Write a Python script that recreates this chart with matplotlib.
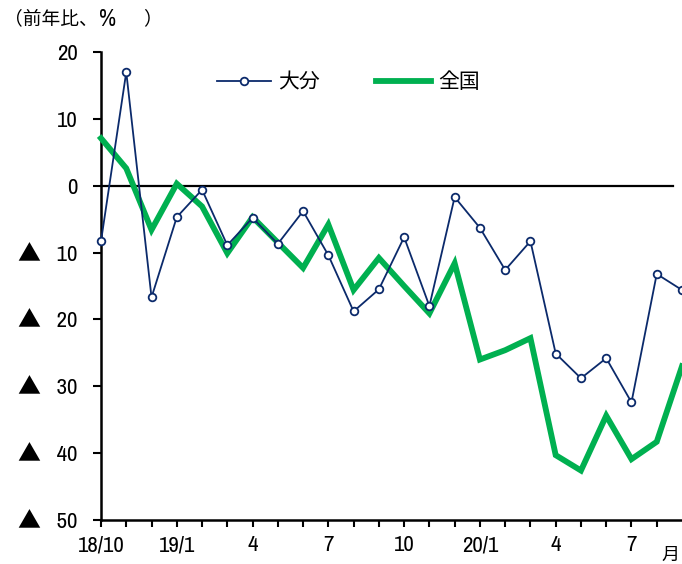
import matplotlib
matplotlib.use("Agg")
import matplotlib.pyplot as plt

JP = ["Noto Sans CJK JP", "DejaVu Sans"]
NUM = ["Archivo Narrow", "Noto Sans CJK JP", "DejaVu Sans"]
NAVY = "#0b2a6b"
GREEN = "#00b050"

# months 18/10 .. 20/9
months = list(range(24))
oita = [-8.3, 17.0, -16.7, -4.7, -0.6, -8.9, -4.8, -8.7, -3.8, -10.4, -18.8, -15.5,
        -7.7, -18.0, -1.7, -6.3, -12.6, -8.3, -25.1, -28.8, -25.8, -32.4, -13.2, -15.6]
japan = [7.1, 2.6, -6.6, 0.3, -3.1, -10.1, -4.7, -8.5, -12.3, -5.8, -15.6, -10.8,
         -15.0, -19.1, -11.6, -26.0, -24.6, -22.8, -40.3, -42.6, -34.4, -40.9, -38.3, -27.0]
x_tick_pos = [0, 3, 6, 9, 12, 15, 18, 21]
x_tick_labels = ["18/10", "19/1", "4", "7", "10", "20/1", "4", "7"]
y_ticks = [-50, -40, -30, -20, -10, 0, 10, 20]
y_tick_labels = ["▲   50", "▲   40", "▲   30", "▲   20", "▲   10", "0", "10", "20"]

W, H = 682, 564
fig = plt.figure(figsize=(W / 100, H / 100), dpi=100)
ax = fig.add_axes([101 / W, 1 - 520 / H, 1 - 101 / W, (520 - 52) / H])

ax.plot(months, oita, color=NAVY, linewidth=1.3, marker="o", markersize=5.5,
        markerfacecolor="white", markeredgecolor=NAVY, markeredgewidth=1.3,
        label="大分", zorder=4, clip_on=False)
ax.plot(months, japan, color=GREEN, linewidth=4.2, label="全国", zorder=3,
        solid_joinstyle="miter", clip_on=False)
ax.axhline(0, xmin=0, xmax=22.64 / 23, color="black", linewidth=1.6, zorder=2)

ax.set_xlim(0, 23)
ax.set_ylim(-50, 20)
ax.set_xticks(range(23), minor=True)
ax.set_xticks(x_tick_pos)
ax.set_xticklabels(x_tick_labels, family=NUM, fontsize=16.5)
ax.set_yticks(y_ticks)
ax.set_yticklabels(y_tick_labels, family=NUM, fontsize=16.5)
ax.tick_params(axis="x", which="both", direction="out", length=5, width=1.5, pad=6)
ax.tick_params(axis="y", direction="out", length=6, width=1.5, pad=11)

for s in ["top", "right"]:
    ax.spines[s].set_visible(False)
for s in ["left", "bottom"]:
    ax.spines[s].set_linewidth(1.8)

leg = ax.legend(loc="center left", bbox_to_anchor=(217 / W, 1 - 82 / H),
                bbox_transform=fig.transFigure, ncol=2, frameon=False,
                prop={"family": JP, "size": 15}, handlelength=2.6,
                handletextpad=0.35, columnspacing=2.7, borderpad=0,
                borderaxespad=0, numpoints=1)

# title pieces: CJK part, Latin percent sign, closing paren
fig.text(4 / W, 1 - 19 / H, "（前年比、", family=JP, fontsize=13.5,
         ha="left", va="center")
fig.text(99 / W, 1 - 20 / H, "%", family=NUM, fontsize=17,
         ha="left", va="center")
fig.text(143 / W, 1 - 19 / H, "）", family=JP, fontsize=13.5,
         ha="left", va="center")
fig.text(670 / W, 1 - 555 / H, "月", family=JP, fontsize=13,
         ha="center", va="center")

fig.savefig("out.png", dpi=100, facecolor="white")
